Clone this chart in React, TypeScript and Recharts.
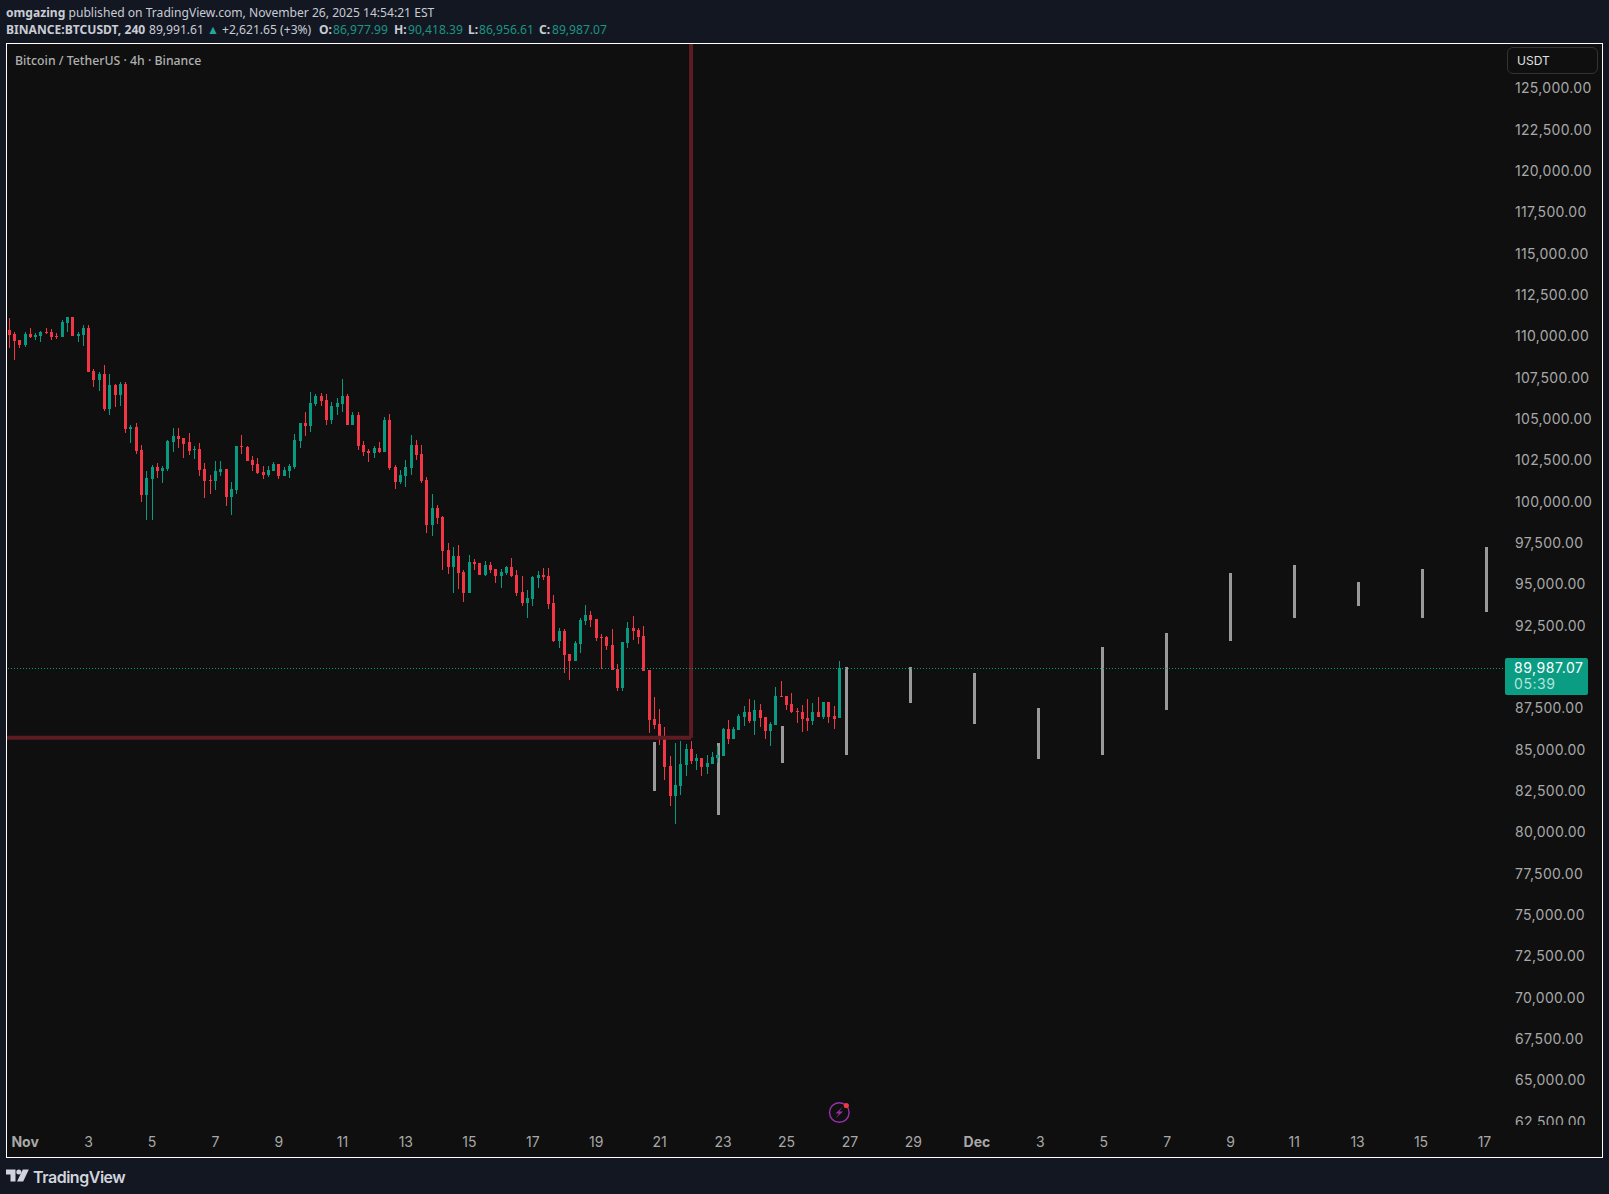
import React from "react";
import { Bar, BarChart, ReferenceLine, XAxis, YAxis } from "recharts";

const opens = [
  110450, 110210, 109840, 109540, 110210, 110030, 110090, 110330, 110330, 110090,
  110030, 110870, 111240, 110090, 110150, 110570, 107970, 107430, 107790, 105670,
  107120, 106520, 107180, 104460, 104580, 103190, 100470, 101440, 102160, 101920,
  102040, 103680, 104040, 103920, 103680, 103190, 103250, 102040, 101380, 101320,
  101860, 102040, 100350, 100770, 103430, 103370, 102590, 102340, 101860, 101680,
  101920, 102340, 101620, 101920, 102160, 103740, 104820, 104640, 105970, 106460,
  106210, 105010, 105790, 105970, 106460, 104700, 105310, 103490, 103130, 103010,
  103310, 103070, 105010, 102160, 101260, 101620, 102100, 103490, 102950, 101380,
  98660, 99680, 99140, 97140, 96110, 96780, 95810, 94540, 96420, 96360,
  95630, 96240, 95990, 95570, 95750, 96110, 95630, 94600, 93940, 94180,
  95450, 95630, 95570, 93940, 91640, 92240, 90850, 90430, 91460, 92850,
  93210, 92970, 91880, 91880, 91400, 89950, 88800, 91520, 92430, 92300,
  91940, 89890, 86920, 86620, 85830, 84080, 82260, 82870, 84140, 85110,
  84380, 84560, 84020, 84200, 84560, 84680, 86320, 85710, 86260, 87040,
  87350, 86800, 87470, 87040, 86200, 86560, 88310, 88310, 87830, 87410,
  87350, 86980, 86800, 87350, 87040, 87950, 87100, 86978,
];
const highs = [
  111170, 110330, 109840, 110330, 110570, 110270, 110390, 110570, 110510, 110270,
  111050, 111240, 111240, 110330, 110750, 110750, 108090, 107910, 108330, 107790,
  107180, 107300, 107300, 104700, 104820, 103490, 101920, 102280, 102400, 102220,
  103800, 104520, 104520, 103920, 104220, 103430, 103610, 102400, 101680, 102530,
  102530, 102040, 101260, 103430, 104100, 103430, 102830, 102710, 102220, 102220,
  102470, 102340, 102160, 102340, 104160, 104820, 105490, 106700, 106580, 106640,
  106580, 106090, 106340, 107480, 106580, 105490, 105490, 103740, 103250, 103430,
  103670, 105190, 105370, 102280, 101980, 102590, 104100, 103800, 103490, 101560,
  100530, 99860, 99200, 97570, 97320, 97450, 95930, 96840, 96600, 96360,
  96480, 96420, 95990, 95990, 96180, 96660, 95930, 95570, 94720, 95570,
  95870, 96050, 96050, 94420, 92430, 92370, 90850, 91640, 93030, 93820,
  93450, 92970, 92060, 91940, 92370, 90250, 91580, 92790, 93150, 92430,
  92550, 89890, 88250, 87530, 86440, 84680, 85470, 85590, 85410, 85590,
  84800, 84560, 84750, 84930, 85290, 86380, 86860, 86440, 87220, 87710,
  88130, 88070, 87830, 87040, 86740, 88860, 89220, 88310, 88490, 87590,
  87770, 88130, 87890, 88250, 87950, 87950, 87710, 90418,
];
const lows = [
  109360, 108630, 109360, 109420, 109960, 109840, 109720, 110210, 109840, 109900,
  110030, 110330, 110090, 109720, 109480, 107910, 107000, 106760, 105550, 105310,
  105790, 105850, 104220, 103610, 102950, 100050, 98960, 98960, 101500, 101200,
  101920, 103070, 103310, 102710, 102890, 102650, 101620, 100290, 100530, 100770,
  101620, 99800, 99260, 100530, 102950, 102530, 101920, 101740, 101440, 101560,
  101920, 101440, 101620, 101500, 102040, 103310, 104040, 104280, 105850, 105850,
  104700, 104760, 105310, 105490, 104700, 104700, 103190, 102830, 102470, 102710,
  103010, 103070, 101980, 100830, 101130, 100950, 101680, 102590, 101190, 98170,
  97990, 98720, 95930, 95690, 94540, 94780, 94000, 94540, 95930, 95630,
  95570, 95750, 95150, 94840, 95630, 95510, 94360, 93760, 93030, 93760,
  94840, 95330, 93570, 91580, 91220, 89700, 89280, 90430, 90910, 92610,
  92490, 91640, 89950, 91100, 89890, 88620, 88620, 91220, 91700, 91460,
  89830, 86080, 86320, 85350, 83230, 81660, 80570, 82330, 83470, 84200,
  83840, 83470, 83600, 84200, 84260, 84680, 85410, 85710, 86260, 86500,
  86680, 85950, 86440, 85710, 85290, 86560, 88250, 87470, 87280, 86680,
  86140, 86200, 86560, 87040, 86920, 86680, 86320, 86957,
];
const closes = [
  110150, 109780, 109540, 110210, 110030, 110150, 110330, 110250, 110030, 110030,
  110930, 111240, 110090, 110210, 110570, 107910, 107430, 107790, 105670, 107120,
  106520, 107180, 104460, 104580, 103130, 100470, 101500, 102160, 101920, 102100,
  103740, 104040, 103860, 103550, 103130, 103250, 101980, 101320, 101320, 101920,
  102040, 100350, 100830, 103430, 103370, 102530, 102280, 101800, 101680, 101980,
  102340, 101620, 101980, 102220, 103800, 104820, 104640, 106030, 106460, 106150,
  105010, 105850, 106030, 106460, 104700, 105310, 103430, 103070, 103010, 103310,
  103070, 105010, 102100, 101260, 101680, 102160, 103490, 102890, 101320, 98660,
  99680, 99080, 97080, 96120, 96780, 95750, 94540, 96420, 96300, 95630,
  96240, 95930, 95570, 95810, 96110, 95570, 94540, 93940, 94240, 95510,
  95630, 95510, 93880, 91640, 92240, 90790, 90430, 91520, 92910, 93210,
  92910, 91820, 91820, 91340, 89890, 88800, 91580, 92430, 92240, 91880,
  89830, 86860, 86560, 85770, 84020, 82260, 82930, 84200, 85110, 84380,
  84560, 84020, 84260, 84620, 84750, 86320, 85710, 86320, 87100, 87350,
  86800, 87470, 86980, 86200, 86620, 88310, 88250, 87770, 87350, 87350,
  86920, 86800, 87350, 87040, 87950, 87040, 86920, 89987,
];

// grey bars pasted on top of the chart, every ~12 candles
const ghostIndex = [122, 134.1, 146.2, 158.3, 170.4, 182.5, 194.6, 206.7, 218.8, 230.9, 243.05, 255.2, 267.3, 279.4];
const ghostHigh = [85530, 85470, 86500, 90070, 90070, 89700, 87590, 91280, 92120, 95750, 96240, 95210, 95990, 97320];
const ghostLow = [82570, 81120, 84260, 84740, 87890, 86620, 84500, 84740, 87470, 91640, 93030, 93760, 93030, 93390];

// 90,000 is left out, the last price tag sits on it
const priceTicks = [
  125000, 122500, 120000, 117500, 115000, 112500, 110000, 107500, 105000, 102500, 100000, 97500, 95000,
  92500, 87500, 85000, 82500, 80000, 77500, 75000, 72500, 70000, 67500, 65000, 62500,
];
const dateLabels = [
  "Nov", "3", "5", "7", "9", "11", "13", "15", "17", "19", "21", "23", "25", "27", "29",
  "Dec", "3", "5", "7", "9", "11", "13", "15", "17",
];
const dateTicks = dateLabels.map((_, i) => 3 + i * 12);

const lastClose = 89987.07;
const drawnLevel = 85790;
const drawnIndex = 128.94;

const X_DOMAIN = [-0.435, 282.5];
const Y_DOMAIN = [62362, 127746];

const UP = "#089981";
const DOWN = "#f23645";
const GHOST = "#9a9a9a";
const DRAWN = "#5e1c22";
const LABEL = "#a8a8a8";
const PAGE_BG = "#131722";
const PLOT_BG = "#0f0f0f";
const AXIS_FONT = "Inter, sans-serif";
const HEAD_FONT = "'Noto Sans', sans-serif";

const rows = [
  ...ghostIndex.map((x, i) => ({ x, range: [ghostLow[i], ghostHigh[i]], ghost: true })),
  ...opens.map((open, i) => ({ x: i, range: [lows[i], highs[i]], open, close: closes[i] })),
];

function CandleShape(props: any) {
  const { x, y, width, height, payload } = props;
  const cx = Math.floor(x + width / 2);
  if (payload.ghost) {
    return <rect x={cx - 1} y={y} width={3} height={height} fill={GHOST} shapeRendering="crispEdges" />;
  }
  const [low, high] = payload.range;
  const pxPerPrice = height / (high - low || 1);
  const top = y + (high - Math.max(payload.open, payload.close)) * pxPerPrice;
  const bottom = y + (high - Math.min(payload.open, payload.close)) * pxPerPrice;
  const color = payload.close >= payload.open ? UP : DOWN;
  return (
    <g shapeRendering="crispEdges">
      <rect x={cx} y={y} width={1} height={height} fill={color} />
      <rect x={cx - 1} y={top} width={3} height={Math.max(bottom - top, 1)} fill={color} />
    </g>
  );
}

function PriceTick({ x, y, payload }: any) {
  return (
    <text
      x={x}
      y={y - 1}
      dy="0.36em"
      fontFamily={AXIS_FONT}
      fontSize={14}
      letterSpacing={0.3}
      fill={LABEL}
      textAnchor="start"
      clipPath="url(#priceClip)"
    >
      {payload.value.toLocaleString("en-US", { minimumFractionDigits: 2 })}
    </text>
  );
}

function DateTick({ x, y, payload }: any) {
  const label = dateLabels[dateTicks.indexOf(payload.value)];
  const isMonth = label === "Nov" || label === "Dec";
  return (
    <text
      x={x}
      y={y + 0.5}
      dy="0.36em"
      fontFamily={AXIS_FONT}
      fontSize={14}
      fontWeight={isMonth ? 700 : 400}
      fill={LABEL}
      textAnchor="middle"
    >
      {label}
    </text>
  );
}

const abs = (left: number, top: number, extra: React.CSSProperties = {}): React.CSSProperties => ({
  position: "absolute",
  left,
  top,
  whiteSpace: "nowrap",
  ...extra,
});

const headLine: React.CSSProperties = {
  fontFamily: HEAD_FONT,
  fontSize: 12.5,
  lineHeight: "16px",
  color: "#c8ccd4",
  transform: "scaleX(0.968)",
  transformOrigin: "left center",
};

function Head({ x, y, bold, color, children }: any) {
  return <div style={abs(x, y, { ...headLine, fontWeight: bold ? 700 : 400, color: color || headLine.color })}>{children}</div>;
}

function Header() {
  const teal = "#1c9482";
  return (
    <>
      <div style={abs(5.5, 5, headLine)}>
        <b>omgazing</b> published on TradingView.com, November 26, 2025 14:54:21 EST
      </div>
      <Head x={5.5} y={22} bold>BINANCE:BTCUSDT, 240</Head>
      <Head x={149} y={22}>89,991.61</Head>
      <Head x={207} y={22} color="#26a69a">▲</Head>
      <Head x={221.5} y={22}>+2,621.65 (+3%)</Head>
      <Head x={319} y={22} bold>O:</Head>
      <Head x={333} y={22} color={teal}>86,977.99</Head>
      <Head x={394} y={22} bold>H:</Head>
      <Head x={408} y={22} color={teal}>90,418.39</Head>
      <Head x={468} y={22} bold>L:</Head>
      <Head x={479} y={22} color={teal}>86,956.61</Head>
      <Head x={539} y={22} bold>C:</Head>
      <Head x={552} y={22} color={teal}>89,987.07</Head>
      <div style={abs(15, 53, { ...headLine, transform: "scaleX(0.983)", fontWeight: 500, color: "#b0b0b0" })}>
        Bitcoin / TetherUS · 4h · Binance
      </div>
    </>
  );
}

function Overlays() {
  return (
    <>
      <div
        style={abs(1507, 47, {
          width: 91,
          height: 27,
          boxSizing: "border-box",
          border: "1px solid #333333",
          borderRadius: 6,
          fontFamily: AXIS_FONT,
          fontSize: 12,
          lineHeight: "25px",
          paddingLeft: 9,
          color: "#e0e0e0",
        })}
      >
        USDT
      </div>
      <div style={abs(1505, 658, { width: 83, height: 37, background: "#0a9d84", borderRadius: 2 })} />
      <div style={abs(1514, 660, { fontFamily: AXIS_FONT, fontSize: 14, letterSpacing: 0.55, lineHeight: "15px", color: "#ffffff" })}>
        89,987.07
      </div>
      <div style={abs(1514, 676, { fontFamily: AXIS_FONT, fontSize: 14, letterSpacing: 0.55, lineHeight: "15px", color: "#b5e3da" })}>
        05:39
      </div>
      <svg style={abs(0, 0)} width={1609} height={1194}>
        <circle cx={839.3} cy={1112.5} r={9.8} fill="none" stroke="#9c2fb0" strokeWidth={1.4} />
        <polygon points="843,1106.5 835.5,1113.5 839.3,1113.5 835.5,1118.5 843,1111.5 839.2,1111.5" fill="#9c2fb0" />
        <circle cx={846.3} cy={1105.5} r={2.6} fill={DOWN} />
        <path d="M6 1169.5H15.5V1181.5H10.5V1174.5H6Z" fill="#d1d4dc" />
        <circle cx={18.8} cy={1172} r={2.5} fill="#d1d4dc" />
        <polygon points="22.8,1169.5 28.8,1169.5 23.2,1181.5 17,1181.5" fill="#d1d4dc" />
      </svg>
      <div
        style={abs(33, 1165.5, {
          fontFamily: AXIS_FONT,
          fontSize: 16,
          letterSpacing: -0.47,
          fontWeight: 600,
          lineHeight: "22px",
          color: "#d1d4dc",
        })}
      >
        TradingView
      </div>
    </>
  );
}

export default function App() {
  return (
    <div style={{ position: "absolute", left: 0, top: 0, width: 1609, height: 1194, background: PAGE_BG, overflow: "hidden" }}>
      <div
        style={abs(6, 43, {
          width: 1597,
          height: 1115,
          boxSizing: "border-box",
          background: PLOT_BG,
          border: "1px solid #ffffff",
        })}
      />
      <div style={abs(0, 0)}>
        <BarChart width={1609} height={1194} data={rows} margin={{ top: 44, right: 0, bottom: 32, left: 7 }}>
          <defs>
            <clipPath id="priceClip">
              <rect x={1505} y={44} width={100} height={1081} />
            </clipPath>
          </defs>
          <XAxis
            type="number"
            dataKey="x"
            domain={X_DOMAIN}
            allowDataOverflow
            ticks={dateTicks}
            interval={0}
            height={37}
            axisLine={false}
            tickLine={false}
            tickSize={0}
            tickMargin={16}
            tick={DateTick}
          />
          <YAxis
            orientation="right"
            type="number"
            domain={Y_DOMAIN}
            allowDataOverflow
            ticks={priceTicks}
            interval={0}
            width={106}
            axisLine={false}
            tickLine={false}
            tickSize={0}
            tickMargin={12}
            tick={PriceTick}
          />
          <ReferenceLine
            segment={[{ x: X_DOMAIN[0], y: drawnLevel }, { x: drawnIndex, y: drawnLevel }]}
            stroke={DRAWN}
            strokeWidth={4}
          />
          <ReferenceLine
            segment={[{ x: drawnIndex, y: Y_DOMAIN[1] }, { x: drawnIndex, y: drawnLevel }]}
            stroke={DRAWN}
            strokeWidth={4}
          />
          <ReferenceLine y={lastClose} stroke={UP} strokeWidth={1} strokeDasharray="1 2" shapeRendering="crispEdges" />
          <Bar dataKey="range" barSize={3} isAnimationActive={false} shape={CandleShape} />
        </BarChart>
      </div>
      <Header />
      <Overlays />
    </div>
  );
}
